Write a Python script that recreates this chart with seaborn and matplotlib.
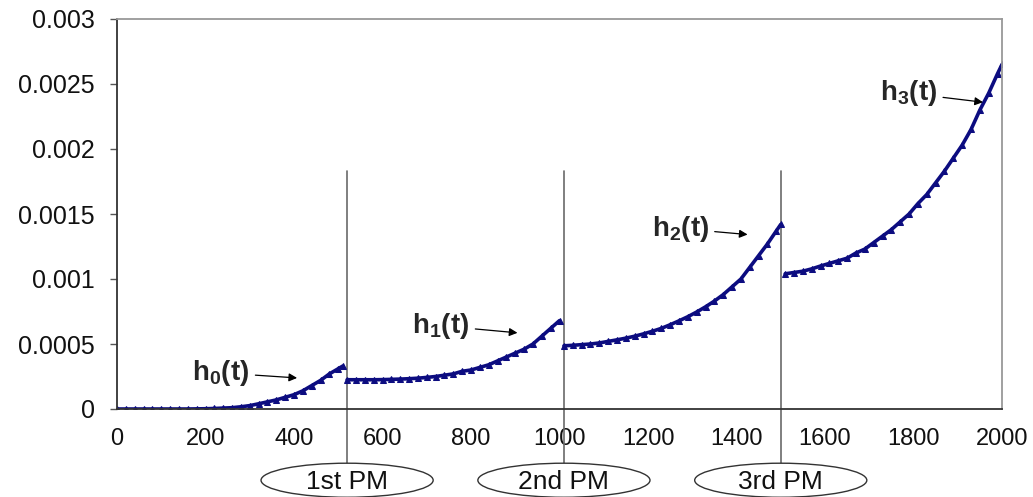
import numpy as np
import pandas as pd
import seaborn as sns
import matplotlib.pyplot as plt
from matplotlib.patches import Ellipse

# hazard rate segments (t step 20, last point at segment end)
t0 = [0, 20, 40, 60, 80, 100, 120, 140, 160, 180, 200, 220, 240, 260, 280, 300,
      320, 340, 360, 380, 400, 420, 440, 460, 480, 500, 510]
h0 = [0, 0, 0, 0, 0, 0, 0, 0, 0, 0.000001, 0.000002, 0.000004, 0.000007, 0.00001,
      0.000017, 0.000026, 0.00004, 0.000055, 0.00007, 0.00009, 0.00011, 0.00014,
      0.00018, 0.00022, 0.00027, 0.00031, 0.00033]

t1 = [520, 540, 560, 580, 600, 620, 640, 660, 680, 700, 720, 740, 760, 780, 800,
      820, 840, 860, 880, 900, 920, 940, 960, 980, 1000]
h1 = [0.000225, 0.000225, 0.000225, 0.000225, 0.000226, 0.000228, 0.00023,
      0.000233, 0.000237, 0.000243, 0.00025, 0.00026, 0.00027, 0.00029, 0.0003,
      0.00032, 0.00034, 0.00037, 0.0004, 0.00043, 0.00046, 0.0005, 0.00056,
      0.00062, 0.00068]

t2 = [1010, 1030, 1050, 1070, 1090, 1110, 1130, 1150, 1170, 1190, 1210, 1230,
      1250, 1270, 1290, 1310, 1330, 1350, 1370, 1390, 1410, 1430, 1450, 1470,
      1490, 1500]
h2 = [0.000486, 0.00049, 0.000495, 0.0005, 0.000508, 0.00052, 0.000532, 0.000545,
      0.00056, 0.000578, 0.000598, 0.00062, 0.000648, 0.000678, 0.00071, 0.000746,
      0.000786, 0.00083, 0.00088, 0.00094, 0.001, 0.00109, 0.00118, 0.00127,
      0.00137, 0.00142]

t3 = [1510, 1530, 1550, 1570, 1590, 1610, 1630, 1650, 1670, 1690, 1710, 1730,
      1750, 1770, 1790, 1810, 1830, 1850, 1870, 1890, 1910, 1930, 1950, 1970,
      1990, 2000]
h3 = [0.00104, 0.00105, 0.00106, 0.001078, 0.0011, 0.00112, 0.00114, 0.00116,
      0.0012, 0.00123, 0.00128, 0.00133, 0.00138, 0.00144, 0.0015, 0.00158,
      0.00165, 0.00174, 0.00183, 0.00193, 0.00203, 0.00215, 0.0023, 0.00243,
      0.00258, 0.00265]

pm_times = [520, 1010, 1500]
pm_labels = ['1st PM', '2nd PM', '3rd PM']
pm_line_top = 0.00183

xticks = [0, 200, 400, 600, 800, 1000, 1200, 1400, 1600, 1800, 2000]
yticks = [0, 0.0005, 0.001, 0.0015, 0.002, 0.0025, 0.003]
ytick_labels = ['0', '0.0005', '0.001', '0.0015', '0.002', '0.0025', '0.003']

# label text position and arrow tip for each segment
seg_names = ['0', '1', '2', '3']
label_xy = [(170, 0.000278), (667, 0.00064), (1208, 0.001388), (1724, 0.002429)]
arrow_xy = [(407, 0.000239), (905, 0.000586), (1425, 0.001342), (1957, 0.00236)]

sns.set_style('white')
plt.rcParams['font.family'] = ['Liberation Sans', 'DejaVu Sans']
plt.rcParams['mathtext.fontset'] = 'custom'
plt.rcParams['mathtext.rm'] = 'Liberation Sans'
plt.rcParams['mathtext.bf'] = 'Liberation Sans:bold'

navy = '#0c0c80'

df = pd.concat([
    pd.DataFrame({'t': t, 'h': h, 'seg': s})
    for t, h, s in zip([t0, t1, t2, t3], [h0, h1, h2, h3], seg_names)
])

fig = plt.figure(figsize=(10.33, 4.97), dpi=100)
ax = fig.add_axes([117 / 1033, 88 / 497, (1002 - 117) / 1033, (409 - 19) / 497])

sns.lineplot(data=df, x='t', y='h', hue='seg', palette=[navy] * 4, legend=False,
             marker='^', markersize=4, markeredgecolor=navy, linewidth=2.6, ax=ax)

ax.set_xlim(0, 2000)
ax.set_ylim(0, 0.003)
ax.set_xticks(xticks)
ax.set_xticklabels([str(v) for v in xticks])
ax.set_yticks(yticks)
ax.set_yticklabels(ytick_labels)
ax.set_xlabel('')
ax.set_ylabel('')
ax.tick_params(axis='x', length=0, pad=14, labelsize=17, colors='#111111')
ax.tick_params(axis='y', length=5, width=1, direction='out', pad=11,
               labelsize=18, colors='#111111', left=True)
ax.tick_params(axis='y', color='#555555')

for side in ['left', 'bottom']:
    ax.spines[side].set_color('#333333')
    ax.spines[side].set_linewidth(1.3)
for side in ['top', 'right']:
    ax.spines[side].set_color('#999999')
    ax.spines[side].set_linewidth(1.3)

# PM event lines running down to the labelled ellipses
for pm, lab in zip(pm_times, pm_labels):
    ax.plot([pm, pm], [pm_line_top, -0.000416], color='#6a6a6a', lw=1.2,
            clip_on=False, zorder=1)
    ax.add_patch(Ellipse((pm, -0.000548), width=389, height=0.000262,
                         facecolor='white', edgecolor='#333333', lw=1.0,
                         clip_on=False, zorder=3))
    ax.text(pm, -0.000565, lab, ha='center', va='center', fontsize=19,
            color='#111111', zorder=4)

for s, (lx, ly), (axx, ayy) in zip(seg_names, label_xy, arrow_xy):
    ax.annotate(r'$\mathbf{h_%s(t)}$' % s, xy=(axx, ayy), xytext=(lx, ly),
                ha='left', va='center', fontsize=20,
                arrowprops=dict(arrowstyle='-|>', color='black', lw=0.9,
                                mutation_scale=12, shrinkA=2, shrinkB=0))

fig.savefig('out.png', dpi=100)
